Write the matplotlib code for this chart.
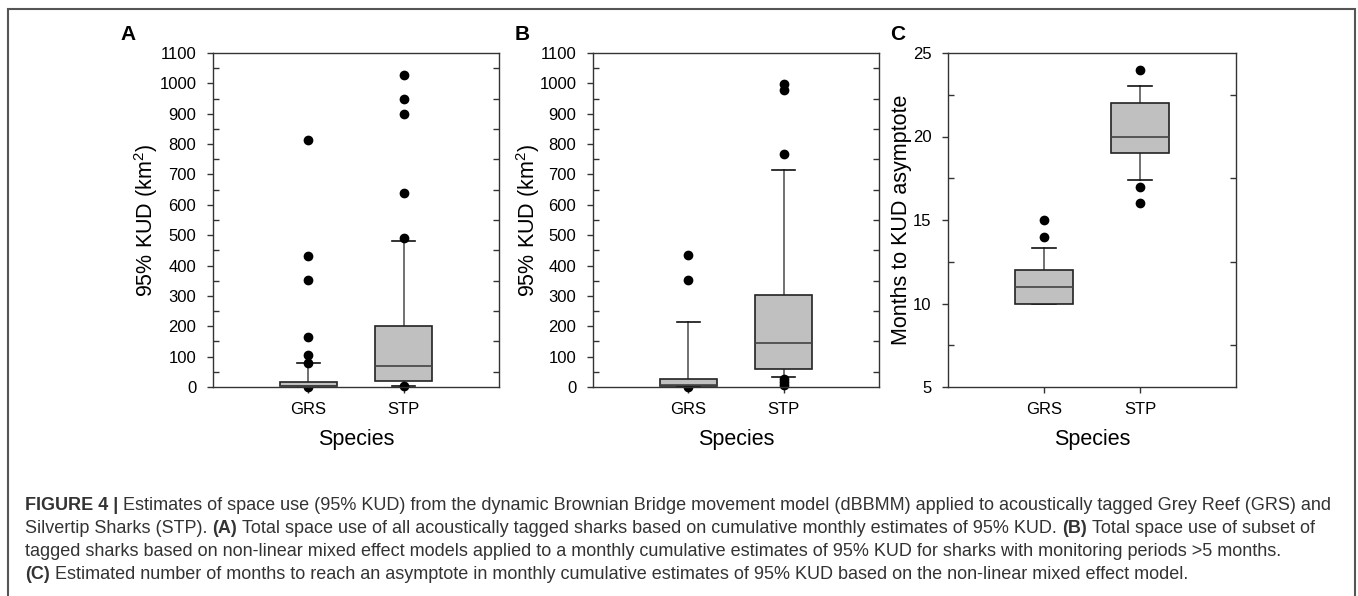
import matplotlib
matplotlib.use('Agg')
import matplotlib.pyplot as plt
from matplotlib import font_manager
from matplotlib.ticker import MultipleLocator
from matplotlib.patches import Rectangle

# ---------------- data ----------------
categories = ['GRS', 'STP']

# Panel A: all tagged sharks, 95% KUD (km2)
a_q1 = [2, 21]
a_med = [4, 68]
a_q3 = [17, 202]
a_whislo = [0, 4]
a_whishi = [78, 482]
a_fliers = [[812, 432, 353, 164, 104, 80, 0], [1028, 948, 899, 640, 492, 4]]

# Panel B: subset (>5 months monitoring), 95% KUD (km2)
b_q1 = [3, 60]
b_med = [8, 146]
b_q3 = [26, 304]
b_whislo = [0, 34]
b_whishi = [215, 716]
b_fliers = [[436, 353, 0], [999, 977, 767, 26, 17, 8]]

# Panel C: months to KUD asymptote
c_q1 = [10, 19]
c_med = [11, 20]
c_q3 = [12, 22]
c_whislo = [10, 17.4]
c_whishi = [13.3, 23]
c_fliers = [[15, 14], [24, 17, 16]]

ylabels = ['95% KUD (km$^2$)', '95% KUD (km$^2$)', 'Months to KUD asymptote']
xlabel = 'Species'
panel_letters = ['A', 'B', 'C']

caption_lines = [
    [("FIGURE 4 |", True), ("Estimates of space use (95% KUD) from the dynamic Brownian Bridge movement model (dBBMM) applied to acoustically tagged Grey Reef (GRS) and", False)],
    [("Silvertip Sharks (STP).", False), ("(A)", True), ("Total space use of all acoustically tagged sharks based on cumulative monthly estimates of 95% KUD.", False), ("(B)", True), ("Total space use of subset of", False)],
    [("tagged sharks based on non-linear mixed effect models applied to a monthly cumulative estimates of 95% KUD for sharks with monitoring periods >5 months.", False)],
    [("(C)", True), ("Estimated number of months to reach an asymptote in monthly cumulative estimates of 95% KUD based on the non-linear mixed effect model.", False)],
]

# ---------------- style ----------------
FONT = 'Liberation Sans'
plt.rcParams['font.family'] = [FONT, 'DejaVu Sans']
plt.rcParams['mathtext.fontset'] = 'custom'
plt.rcParams['mathtext.rm'] = FONT
plt.rcParams['mathtext.it'] = FONT + ':italic'
plt.rcParams['mathtext.bf'] = FONT + ':bold'

W, H = 1358, 596
fig = plt.figure(figsize=(W / 100, H / 100), dpi=100)
fig.patch.set_facecolor('white')


def px_rect(left, top, right, bottom):
    return [left / W, 1 - bottom / H, (right - left) / W, (bottom - top) / H]


panels = [
    dict(rect=px_rect(213, 53, 499, 387), q1=a_q1, med=a_med, q3=a_q3, lo=a_whislo, hi=a_whishi,
         fl=a_fliers, ylim=(0, 1100), major=100, minor=50, ylab_x=146, letter_xy=(128, 35)),
    dict(rect=px_rect(593, 53, 879, 387), q1=b_q1, med=b_med, q3=b_q3, lo=b_whislo, hi=b_whishi,
         fl=b_fliers, ylim=(0, 1100), major=100, minor=50, ylab_x=528, letter_xy=(522, 35)),
    dict(rect=px_rect(948, 53, 1236, 387), q1=c_q1, med=c_med, q3=c_q3, lo=c_whislo, hi=c_whishi,
         fl=c_fliers, ylim=(5, 25), major=5, minor=2.5, ylab_x=902, letter_xy=(898, 35)),
]

edge = '#222222'
for i, p in enumerate(panels):
    ax = fig.add_axes(p['rect'])
    stats = []
    for j, cat in enumerate(categories):
        stats.append(dict(label=cat, q1=p['q1'][j], med=p['med'][j], q3=p['q3'][j],
                          whislo=p['lo'][j], whishi=p['hi'][j], fliers=p['fl'][j]))
    ax.bxp(stats, positions=[1, 2], widths=0.6, capwidths=0.24, patch_artist=True,
           showfliers=True,
           boxprops=dict(facecolor='#c0c0c0', edgecolor=edge, linewidth=1.2, zorder=3),
           medianprops=dict(color='#444444', linewidth=1.2, zorder=4),
           whiskerprops=dict(color='#666666', linewidth=1.3, zorder=2),
           capprops=dict(color='#111111', linewidth=1.2, zorder=2),
           flierprops=dict(marker='o', markerfacecolor='black', markeredgecolor='black',
                           markersize=6, linestyle='none', zorder=2.5, clip_on=False))
    ax.set_xlim(0, 3)
    ax.set_ylim(*p['ylim'])
    ax.yaxis.set_major_locator(MultipleLocator(p['major']))
    ax.yaxis.set_minor_locator(MultipleLocator(p['minor']))
    ax.set_xticks([1, 2])
    ax.set_xticklabels(categories)
    for s in ax.spines.values():
        s.set_color('#333333')
        s.set_linewidth(1.0)
    ax.tick_params(axis='y', which='major', direction='out', length=4, width=1,
                   color='#333333', labelsize=12, pad=8, right=False)
    ax.tick_params(axis='y', which='minor', direction='in', length=4, width=1,
                   color='#333333', right=True)
    ax.tick_params(axis='x', which='major', direction='out', length=4, width=1,
                   color='#333333', labelsize=12, pad=7)
    ax.set_ylabel(ylabels[i], fontsize=15.5, va='center')
    ax.yaxis.set_label_coords((p['ylab_x'] - p['rect'][0] * W) / (p['rect'][2] * W), 0.5)
    ax.set_xlabel(xlabel, fontsize=15.5, va='center')
    ax.xaxis.set_label_coords(0.5, (387 - 440) / 334)
    lx, ly = p['letter_xy']
    fig.text(lx / W, 1 - ly / H, panel_letters[i], fontsize=15, fontweight='bold',
             ha='center', va='center')

# outer frame
fig.add_artist(Rectangle((8 / W, -0.05), (1355 - 8) / W, 1.05 - 9 / H,
                         transform=fig.transFigure, fill=False, edgecolor='#555555',
                         linewidth=1.5))

# caption
names = {f.name for f in font_manager.fontManager.ttflist}
cap_font = 'Liberation Sans Narrow' if 'Liberation Sans Narrow' in names else FONT
cap_color = '#333333'
renderer = fig.canvas.get_renderer()


def text_width(s, size, bold):
    t = fig.text(0, 0, s, fontsize=size, family=cap_font,
                 fontweight='bold' if bold else 'normal')
    w = t.get_window_extent(renderer).width
    t.remove()
    return w


def line_width(segs, size):
    sp = text_width('x x', size, False) - text_width('xx', size, False)
    total = sum(text_width(s, size, b) for s, b in segs) + sp * (len(segs) - 1)
    return total, sp


base = 12.0
w1, _ = line_width(caption_lines[0], base)
cap_size = base * (1332 - 25) / w1
baselines = [510, 533, 556, 579]
for segs, yb in zip(caption_lines, baselines):
    _, sp = line_width(segs, cap_size)
    x = 25
    for s, b in segs:
        fig.text(x / W, 1 - yb / H, s, fontsize=cap_size, family=cap_font,
                 fontweight='bold' if b else 'normal', color=cap_color,
                 ha='left', va='baseline')
        x += text_width(s, cap_size, b) + sp

fig.savefig('out.png', dpi=100, facecolor='white')
